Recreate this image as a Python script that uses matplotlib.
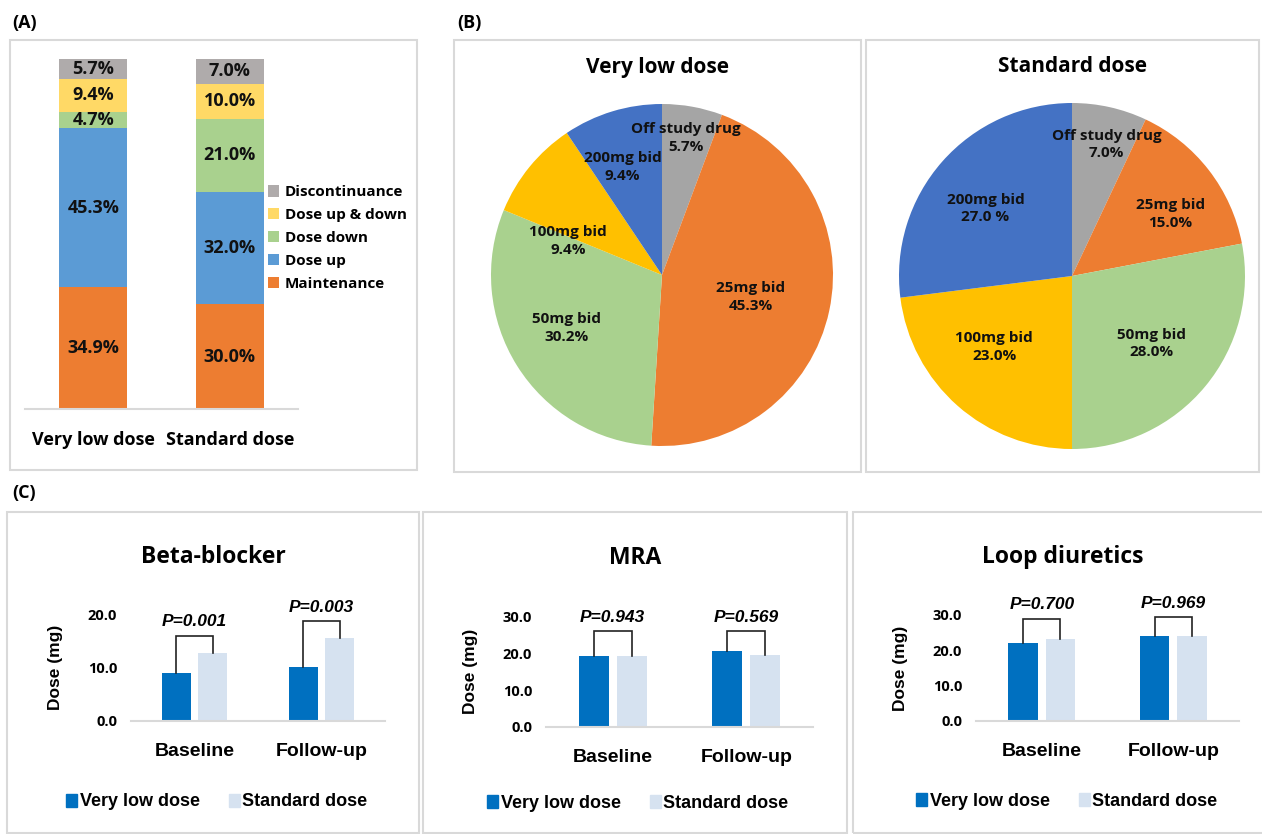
import matplotlib
matplotlib.use('Agg')
import matplotlib.pyplot as plt
from matplotlib.patches import Rectangle, Patch
import numpy as np

W, H = 1262, 834
DPI = 100

# ---------------- data ----------------
stack_groups = ['Very low dose', 'Standard dose']
stack_cats = ['Maintenance', 'Dose up', 'Dose down', 'Dose up & down', 'Discontinuance']
maintenance = [34.9, 30.0]
dose_up = [45.3, 32.0]
dose_down = [4.7, 21.0]
dose_up_down = [9.4, 10.0]
discontinuance = [5.7, 7.0]

pie_titles = ['Very low dose', 'Standard dose']
pie_cats = ['Off study drug', '25mg bid', '50mg bid', '100mg bid', '200mg bid']
pie_very_low = [5.7, 45.3, 30.2, 9.4, 9.4]
pie_standard = [7.0, 15.0, 28.0, 23.0, 27.0]
pie_very_low_pct = ['5.7%', '45.3%', '30.2%', '9.4%', '9.4%']
pie_standard_pct = ['7.0%', '15.0%', '28.0%', '23.0%', '27.0 %']

timepoints = ['Baseline', 'Follow-up']
groups = ['Very low dose', 'Standard dose']
drugs = ['Beta-blocker', 'MRA', 'Loop diuretics']
bb_very_low = [9.0, 10.1]
bb_standard = [12.9, 15.7]
mra_very_low = [19.3, 20.6]
mra_standard = [19.3, 19.4]
loop_very_low = [22.2, 24.1]
loop_standard = [23.2, 24.1]
bb_p = ['P=0.001', 'P=0.003']
mra_p = ['P=0.943', 'P=0.569']
loop_p = ['P=0.700', 'P=0.969']
bb_yticks = [0, 10, 20]
mra_yticks = [0, 10, 20, 30]
loop_yticks = [0, 10, 20, 30]

# ---------------- style ----------------
F = ['Open Sans', 'DejaVu Sans']
FA = ['Liberation Sans', 'DejaVu Sans']
plt.rcParams['font.family'] = F
BOX = '#D9D9D9'

fig = plt.figure(figsize=(W / DPI, H / DPI), dpi=DPI)
fig.patch.set_facecolor('white')


def px_axes(x0, y0, x1, y1):
    return fig.add_axes([x0 / W, 1 - y1 / H, (x1 - x0) / W, (y1 - y0) / H])


def box(x0, y0, x1, y1):
    fig.add_artist(Rectangle((x0 / W, 1 - y1 / H), (x1 - x0) / W, (y1 - y0) / H,
                             transform=fig.transFigure, fill=False,
                             edgecolor=BOX, lw=1.5))


def ftext(x, y, s, **kw):
    fig.text(x / W, 1 - y / H, s, **kw)


# panel frames
box(10, 40, 417, 470)
box(454, 40, 861, 472)
box(866, 40, 1259, 472)
box(7, 512, 419, 833)
box(423, 512, 847, 833)
box(853, 512, 1270, 833)

ftext(12, 23, '(A)', fontsize=13, fontweight='bold', va='center', ha='left')
ftext(457, 23, '(B)', fontsize=13, fontweight='bold', va='center', ha='left')
ftext(12, 493, '(C)', fontsize=13, fontweight='bold', va='center', ha='left')

# ---------------- panel A ----------------
axA = px_axes(25, 59, 298, 409)
stack_series = [maintenance, dose_up, dose_down, dose_up_down, discontinuance]
stack_colors = ['#ED7D31', '#5B9BD5', '#A9D18E', '#FFD966', '#AFABAB']
xA = np.arange(len(stack_groups))
bottom = np.zeros(len(stack_groups))
handles = []
for name, vals, col in zip(stack_cats, stack_series, stack_colors):
    vals = np.array(vals)
    b = axA.bar(xA, vals, 0.5, bottom=bottom, color=col, label=name)
    handles.append(b)
    for xi, v, bt in zip(xA, vals, bottom):
        axA.text(xi, bt + v / 2, f'{v:.1f}%', ha='center', va='center',
                 fontsize=13, fontweight='bold', color='#111111')
    bottom += vals
axA.set_xlim(-0.5, 1.5)
axA.set_ylim(0, 100)
for s in ['top', 'right', 'left']:
    axA.spines[s].set_visible(False)
axA.spines['bottom'].set_color(BOX)
axA.spines['bottom'].set_linewidth(1.5)
axA.set_yticks([])
axA.set_xticks(xA)
axA.set_xticklabels(stack_groups, fontsize=13, fontweight='bold')
axA.tick_params(axis='x', length=0, pad=16)
legA = axA.legend(handles[::-1], stack_cats[::-1], loc='center left',
                  bbox_to_anchor=((268 - 25) / 273, (409 - 238) / 350),
                  frameon=False, prop={'family': F, 'weight': 'bold', 'size': 11},
                  handlelength=0.75, handleheight=0.75, handletextpad=0.35,
                  labelspacing=0.58, borderaxespad=0, borderpad=0)

# ---------------- panel B ----------------
pie_colors = ['#A5A5A5', '#ED7D31', '#A9D18E', '#FFC000', '#4472C4']
pie_axes_px = [(491, 104, 833, 446), (899, 103, 1245, 449)]
pie_label_pos = [
    [(0.14, 0.80), (0.52, -0.13), (-0.56, -0.31), (-0.55, 0.20), (-0.23, 0.63)],
    [(0.20, 0.76), (0.57, 0.36), (0.46, -0.39), (-0.45, -0.41), (-0.50, 0.39)],
]
pie_title_px = [(658, 67), (1072, 67)]
for vals, pcts, title, apx, lpos, tpx in zip([pie_very_low, pie_standard],
                                              [pie_very_low_pct, pie_standard_pct],
                                              pie_titles, pie_axes_px, pie_label_pos,
                                              pie_title_px):
    ax = px_axes(*apx)
    ax.pie(vals, colors=pie_colors, startangle=90, counterclock=False, radius=1,
           wedgeprops=dict(linewidth=0))
    ax.set_xlim(-1, 1)
    ax.set_ylim(-1, 1)
    ax.set_aspect('auto')
    ax.axis('off')
    for cat, pct, (dx, dy) in zip(pie_cats, pcts, lpos):
        ax.text(dx, dy, f'{cat}\n{pct}', ha='center', va='center', fontsize=11,
                fontweight='bold', linespacing=1.35, color='#111111')
    ftext(tpx[0], tpx[1], title, fontsize=15, fontweight='bold', ha='center', va='center')

# ---------------- panel C ----------------
bar_axes_px = [(131, 615, 385, 720.7), (546, 616.3, 813, 727), (976, 615, 1239, 721)]
bar_vl = [bb_very_low, mra_very_low, loop_very_low]
bar_sd = [bb_standard, mra_standard, loop_standard]
bar_p = [bb_p, mra_p, loop_p]
bar_yt = [bb_yticks, mra_yticks, loop_yticks]
bracket_top = [[16.1, 18.8], [26.0, 26.0], [29.0, 29.3]]
title_px = [(213, 557), (635, 558), (1063, 557)]
legend_px = [(217, 802), (638, 803), (1067, 801)]
VL_COL = '#0070C0'
SD_COL = '#D6E2F0'
bw = 0.225
off = 0.142
for i in range(3):
    ax = px_axes(*bar_axes_px[i])
    x = np.arange(len(timepoints))
    ax.bar(x - off, bar_vl[i], bw, color=VL_COL, label=groups[0])
    ax.bar(x + off, bar_sd[i], bw, color=SD_COL, label=groups[1])
    ax.set_xlim(-0.5, 1.5)
    ax.set_ylim(bar_yt[i][0], bar_yt[i][-1])
    ax.set_yticks(bar_yt[i])
    ax.set_yticklabels([f'{t:.1f}' for t in bar_yt[i]], fontsize=10.5, fontweight='bold')
    ax.set_xticks(x)
    ax.set_xticklabels(timepoints, fontsize=14, fontweight='bold', family=FA)
    ax.tick_params(axis='x', length=0, pad=16)
    ax.tick_params(axis='y', length=0, pad=10)
    for s in ['top', 'right', 'left']:
        ax.spines[s].set_visible(False)
    ax.spines['bottom'].set_color(BOX)
    ax.spines['bottom'].set_linewidth(1.5)
    ax.set_ylabel('Dose (mg)', fontsize=12.5, fontweight='bold', family=FA)
    axw = bar_axes_px[i][2] - bar_axes_px[i][0]
    ax.yaxis.set_label_coords(-68 / axw, 0.5)
    for xi, v1, v2, top, p in zip(x, bar_vl[i], bar_sd[i], bracket_top[i], bar_p[i]):
        ax.plot([xi - off, xi - off, xi + off, xi + off], [v1, top, top, v2],
                color='#222222', lw=1.2, clip_on=False, solid_joinstyle='miter')
        ax.annotate(p, xy=(xi, top), xytext=(0, 10), textcoords='offset points',
                    ha='center', va='center', fontsize=12.5, fontweight='bold',
                    fontstyle='italic', family=FA, annotation_clip=False)
    ftext(title_px[i][0], title_px[i][1], drugs[i], fontsize=16.5, fontweight='bold',
          ha='center', va='center')
    hnd = [Patch(color=VL_COL), Patch(color=SD_COL)]
    fig.legend(hnd, groups, loc='center',
               bbox_to_anchor=(legend_px[i][0] / W, 1 - legend_px[i][1] / H),
               ncol=2, frameon=False, prop={'family': FA, 'weight': 'bold', 'size': 13},
               handlelength=0.6, handleheight=0.75, handletextpad=0.15,
               columnspacing=1.6, borderpad=0, borderaxespad=0)

fig.savefig('out.png', dpi=DPI, facecolor='white')
